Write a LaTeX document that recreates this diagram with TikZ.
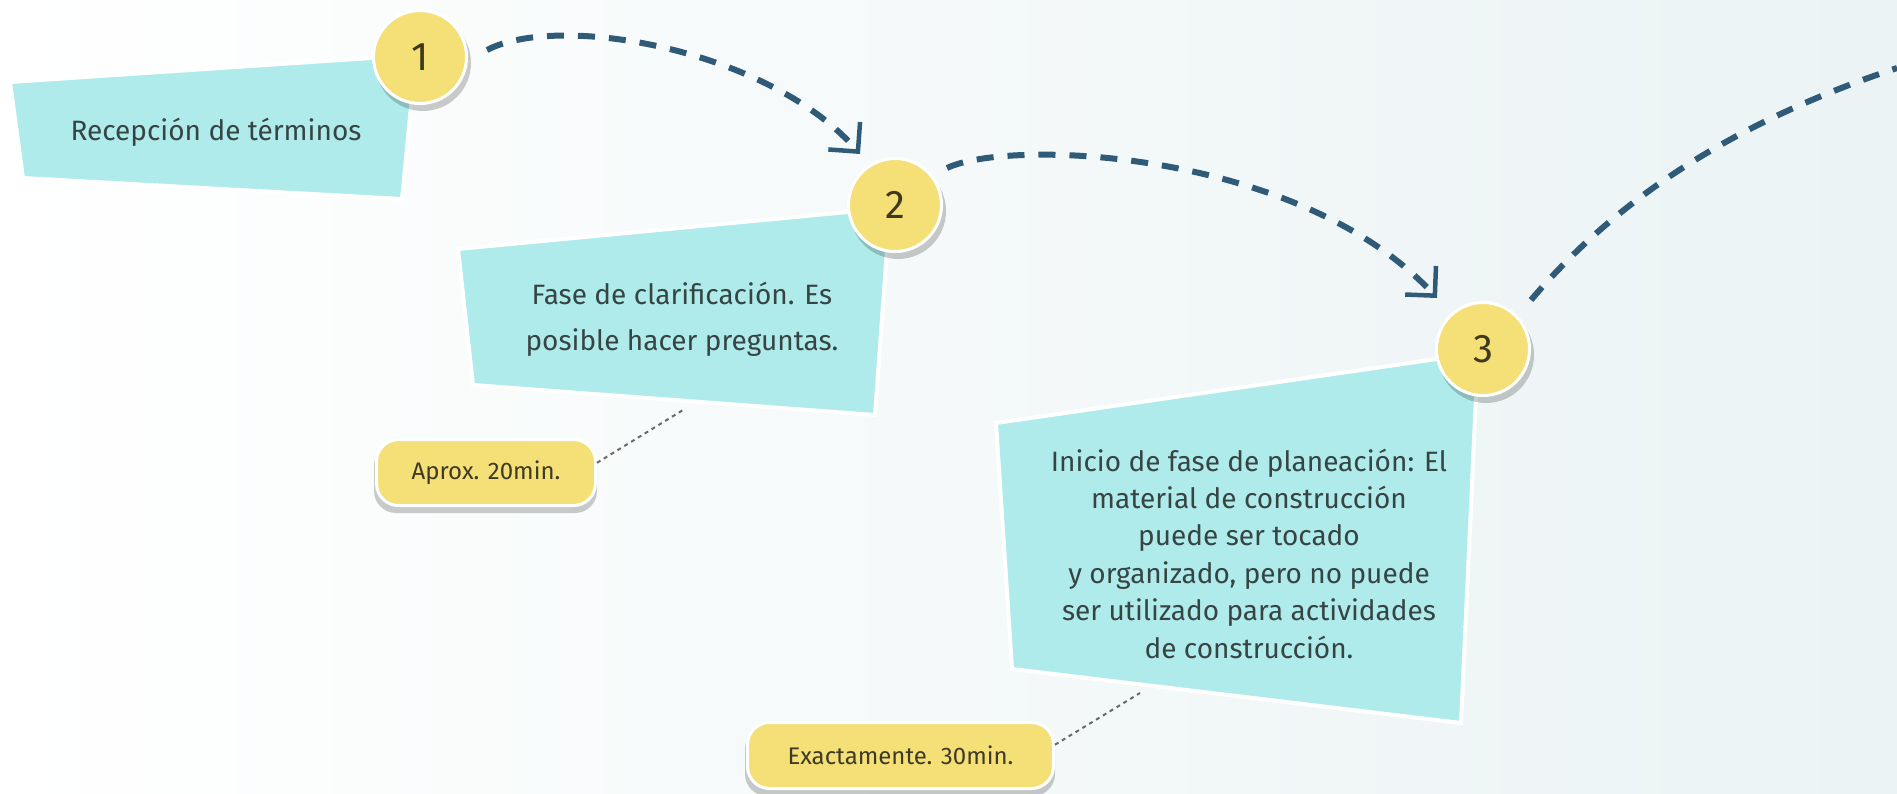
\documentclass[tikz,border=0pt]{standalone}
\usepackage{fontspec}
\setmainfont{Fira Sans}
\usetikzlibrary{arrows.meta}
\definecolor{boxc}{HTML}{B0EBEB}
\definecolor{yel}{HTML}{F5E077}
\definecolor{arrowc}{HTML}{2F5A78}
\definecolor{textc}{HTML}{364444}
\definecolor{digitc}{HTML}{3F3A1F}
\definecolor{labc}{HTML}{3F3A25}
\definecolor{bgc}{HTML}{EBF3F4}
\definecolor{leadc}{HTML}{6A6A6A}
\begin{document}
\begin{tikzpicture}[x=1pt,y=-1pt,
  stepbox/.style={fill=boxc, draw=white, line width=4pt, line join=miter},
  numc/.style={circle, fill=yel, draw=white, line width=3pt, minimum size=93pt, inner sep=0pt, font=\fontsize{40}{48}\selectfont, text=digitc},
  shadowc/.style={fill=black, fill opacity=0.2},
  flow/.style={draw=arrowc, line width=6pt, dash pattern=on 17pt off 14pt},
  arrowtip/.style={-{Straight Barb[length=21pt,width=42pt,line width=4.5pt]}},
  note/.style={rounded corners=22pt, fill=yel, draw=white, line width=3pt, minimum height=66pt, font=\fontsize{24}{28}\selectfont, text=labc, inner sep=0pt},
  noteshadow/.style={rounded corners=22pt, fill=black, fill opacity=0.2},
  lead/.style={draw=leadc, line width=2pt, dash pattern=on 4pt off 4pt},
  body/.style={text=textc, align=center}
]
% background
\shade[left color=white, right color=bgc] (0,0) rectangle (1897,793);
\useasboundingbox (0,0) rectangle (1897,793);
\clip (0,0) rectangle (1897,793);

% step 1
\path[stepbox] (10,82) -- (416,55) -- (402,199) -- (23,178) -- cycle;
\node[body, font=\fontsize{28}{46}\selectfont, anchor=base] (t1) at (216,140) {Recepción de términos};
\fill[shadowc] (423,63) circle (48pt);
\node[numc] (c1) at (420,57) {1};

% step 2
\path[stepbox] (458,249) -- (890,208) -- (875,415) -- (473,385) -- cycle;
\node[body, font=\fontsize{28}{46}\selectfont, anchor=base] (t2) at (682,350) {Fase de clarificación. Es\\posible hacer preguntas.};
\fill[shadowc] (898,211) circle (48pt);
\node[numc] (c2) at (895,205) {2};

% step 3
\path[stepbox] (996,423) -- (1478,353) -- (1461,723) -- (1012,669) -- cycle;
\node[body, font=\fontsize{28}{37.4}\selectfont, anchor=base] (t3) at (1249,658) {Inicio de fase de planeación: El\\material de construcción\\puede ser tocado\\y organizado, pero no puede\\ser utilizado para actividades\\de construcción.};
\fill[shadowc] (1486,355) circle (48pt);
\node[numc] (c3) at (1483,349) {3};

% notes
\fill[noteshadow] (374,444) rectangle (597,513);
\node[note, minimum width=219pt] (l1) at (486,472.5) {Aprox. 20min.};
\fill[noteshadow] (745,727) rectangle (1055,796);
\node[note, minimum width=306pt] (l2) at (900.5,755.5) {Exactamente. 30min.};

\coordinate (p1) at (683,410);
\coordinate (p2) at (1140,693);
\draw[lead] (l1.5) -- (p1);
\draw[lead] (l2.4) -- (p2);

% flow arrows
\coordinate (a1s) at (487,50);
\coordinate (a1e) at (860,154);
\coordinate (a2s) at (947,168);
\coordinate (a2e) at (1437,298);
\coordinate (a3s) at (1531,300);
\coordinate (a3e) at (1897,68);
\draw[flow, arrowtip] (a1s) .. controls (560,12) and (770,50) .. (a1e);
\draw[flow, arrowtip] (a2s) .. controls (1010,138) and (1300,150) .. (a2e);
\draw[flow] (a3s) .. controls (1620,195) and (1740,120) .. (a3e);
\end{tikzpicture}
\end{document}
